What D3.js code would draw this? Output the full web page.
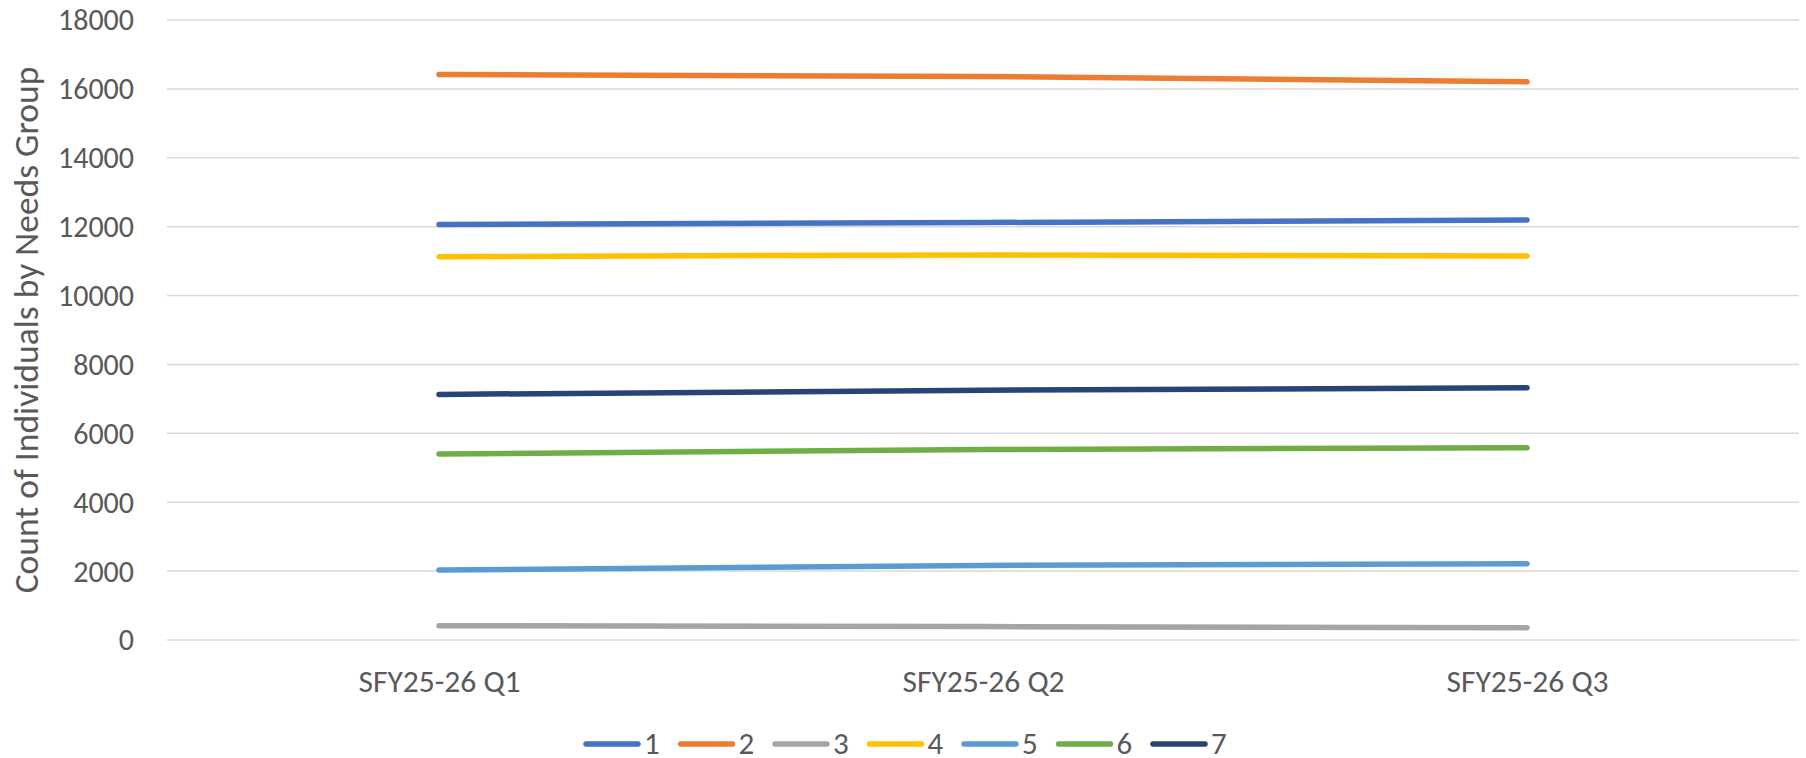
<!DOCTYPE html>
<html>
<head>
<meta charset="utf-8">
<script src="https://cdn.jsdelivr.net/npm/d3@7"></script>
<style>
  body { margin: 0; background: #fff; }
  text { font-family: Carlito, Calibri, Lato, sans-serif; fill: #595959; }
</style>
</head>
<body>
<svg id="chart" width="1806" height="758"></svg>
<script>
const quarters = ["SFY25-26 Q1", "SFY25-26 Q2", "SFY25-26 Q3"];
const groups = ["1", "2", "3", "4", "5", "6", "7"];
const group1 = [12060, 12120, 12195];
const group2 = [16420, 16360, 16210];
const group3 = [415, 390, 357];
const group4 = [11130, 11180, 11150];
const group5 = [2030, 2165, 2215];
const group6 = [5400, 5530, 5585];
const group7 = [7130, 7250, 7325];
const yTicks = [0, 2000, 4000, 6000, 8000, 10000, 12000, 14000, 16000, 18000];
const colors = ["#4472C4", "#ED7D31", "#A5A5A5", "#FFC000", "#5B9BD5", "#70AD47", "#264478"];

const width = 1806, height = 758;
const margin = { top: 20, right: 7, bottom: 118, left: 167 };

const series = [group1, group2, group3, group4, group5, group6, group7].map((vals, i) => ({
  name: groups[i],
  color: colors[i],
  values: vals.map((v, j) => ({ q: quarters[j], v }))
}));

const svg = d3.select("#chart");

const x = d3.scalePoint()
  .domain(quarters)
  .range([margin.left, width - margin.right])
  .padding(0.5);

const y = d3.scaleLinear()
  .domain([0, 18000])
  .range([height - margin.bottom, margin.top]);

// gridlines
svg.append("g")
  .selectAll("line")
  .data(yTicks)
  .join("line")
  .attr("x1", margin.left)
  .attr("x2", width - margin.right)
  .attr("y1", d => y(d))
  .attr("y2", d => y(d))
  .attr("stroke", "#d9d9d9")
  .attr("stroke-width", 1.5);

// y axis labels
const yAxis = svg.append("g")
  .attr("transform", `translate(${margin.left - 33},0)`)
  .call(d3.axisLeft(y).tickValues(yTicks).tickSize(0).tickPadding(0).tickFormat(d3.format("d")));
yAxis.select(".domain").remove();
yAxis.selectAll("text")
  .attr("font-size", 30)
  .attr("dy", "0.33em")
  .style("fill", "#595959");

// x axis labels
const xAxis = svg.append("g")
  .attr("transform", `translate(0,${height - margin.bottom})`)
  .call(d3.axisBottom(x).tickSize(0).tickPadding(0));
xAxis.select(".domain").remove();
xAxis.selectAll("text")
  .attr("font-size", 31.5)
  .attr("y", 52)
  .attr("dy", 0)
  .style("fill", "#595959");

// axis title
svg.append("text")
  .attr("transform", `translate(38,${(margin.top + height - margin.bottom) / 2}) rotate(-90)`)
  .attr("text-anchor", "middle")
  .attr("font-size", 35.5)
  .text("Count of Individuals by Needs Group");

// lines
const line = d3.line()
  .x(d => x(d.q))
  .y(d => y(d.v));

svg.append("g")
  .selectAll("path")
  .data(series)
  .join("path")
  .attr("d", d => line(d.values))
  .attr("fill", "none")
  .attr("stroke", d => d.color)
  .attr("stroke-width", 5.5)
  .attr("stroke-linecap", "round")
  .attr("stroke-linejoin", "round");

// legend
const legendX = d3.scalePoint().domain(groups).range([584, 584 + 6 * 94.5]);
const legend = svg.append("g")
  .selectAll("g")
  .data(series)
  .join("g")
  .attr("transform", d => `translate(${legendX(d.name)},744)`);

legend.append("line")
  .attr("x1", 2)
  .attr("x2", 54)
  .attr("stroke", d => d.color)
  .attr("stroke-width", 5.5)
  .attr("stroke-linecap", "round");

legend.append("text")
  .attr("x", 60)
  .attr("y", 10)
  .attr("font-size", 31)
  .text(d => d.name);
</script>
</body>
</html>
